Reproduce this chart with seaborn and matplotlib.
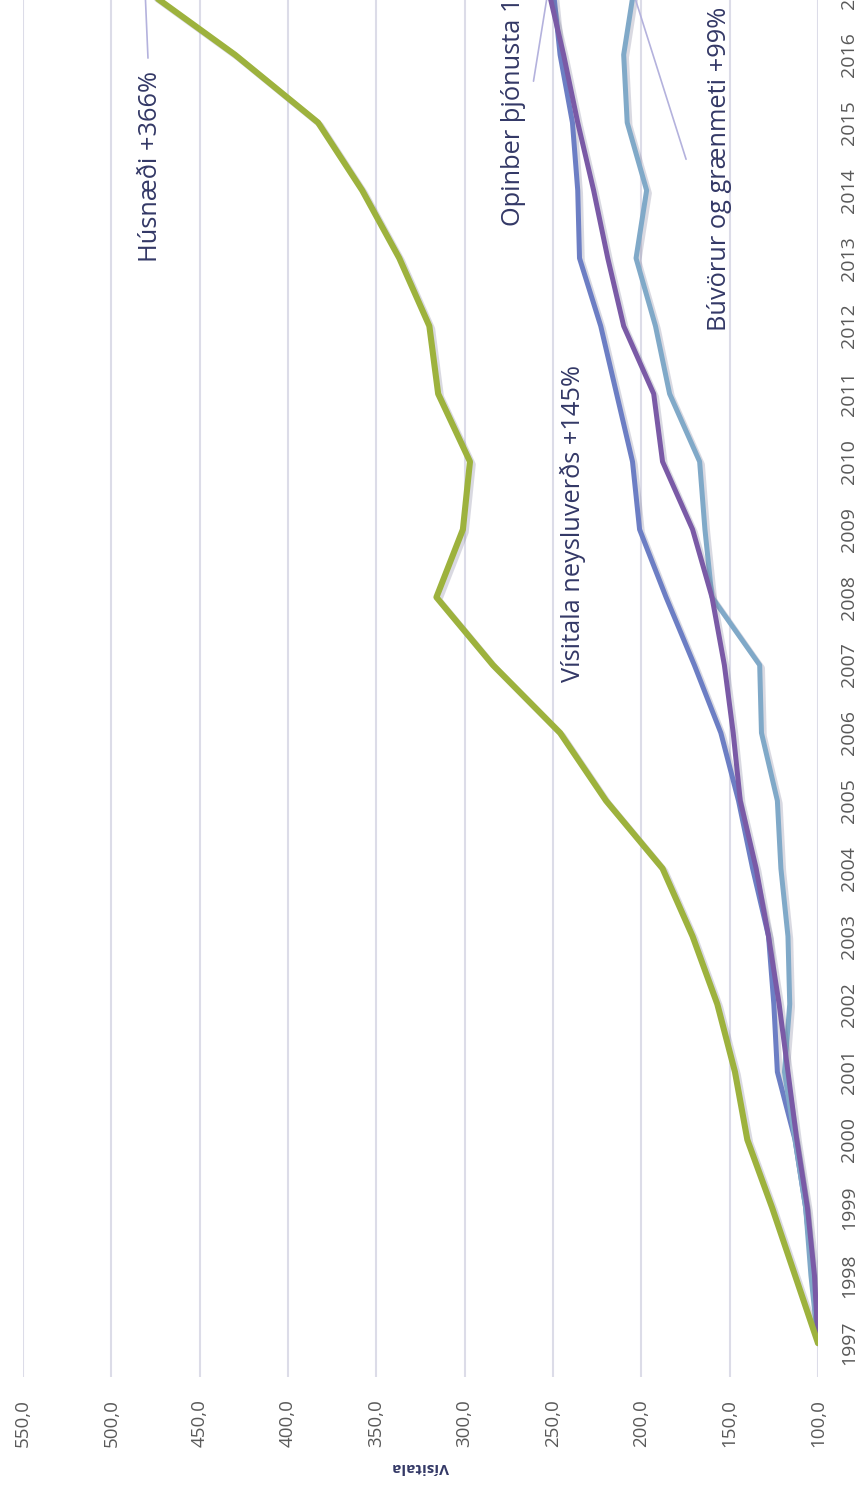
import pandas as pd
import seaborn as sns
import matplotlib.pyplot as plt
import matplotlib.patheffects as pe
from matplotlib.ticker import FuncFormatter

# --------------------------
# Data (index, 1997 = 100)
# --------------------------
years = list(range(1997, 2018))

husnaedi = [100, 113, 126, 140, 147, 157, 171, 188, 220, 246, 284,
            316, 301, 297, 315, 320, 337, 358, 383, 430, 483]
visitala = [100, 103, 107, 113, 123, 125, 128, 137, 145, 155, 170,
            186, 201, 205, 214, 223, 235, 236, 239, 246, 250]
opinber = [100, 102, 106, 112, 117, 122, 128, 135, 144, 148, 153,
           160, 171, 188, 193, 210, 219, 227, 236, 244, 253]
buvorur = [100, 104, 107, 113, 119, 116, 117, 121, 123, 132, 133,
           160, 164, 167, 184, 192, 203, 197, 208, 210, 204]

value_ticks = [100, 150, 200, 250, 300, 350, 400, 450, 500, 550]

series = {
    "Vísitala neysluverðs": (visitala, "#6c7ec4", 3.6),
    "Búvörur og grænmeti": (buvorur, "#80a9c8", 3.6),
    "Opinber þjónusta": (opinber, "#7a5aa6", 3.6),
    "Húsnæði": (husnaedi, "#9db23d", 4.4),
}

sns.set_theme(style="white")
plt.rcParams["font.family"] = ["Open Sans", "DejaVu Sans"]

NAVY = "#333866"
GREY = "#595959"
LEADER = "#b4b2dd"

fig = plt.figure(figsize=(8.56, 14.95), dpi=100)
# chart is drawn turned on its side: values run right-to-left, years bottom-to-top
ax = fig.add_axes([0.0269, 0.0789, 0.9287, 0.9525])

shadow = [pe.SimpleLineShadow(offset=(2, -2), shadow_color="#6a6a8a", alpha=0.25),
          pe.Normal()]

for name, (vals, col, lw) in series.items():
    df = pd.DataFrame({"Year": years, "Value": vals})
    sns.lineplot(data=df, x="Value", y="Year", orient="y", ax=ax,
                 color=col, linewidth=lw, path_effects=shadow)

ax.set_xlim(550, 100)
ax.set_ylim(1996.5, 2017.5)

ax.set_xticks(value_ticks)
ax.xaxis.set_major_formatter(FuncFormatter(lambda v, p: f"{v:.1f}".replace(".", ",")))
ax.tick_params(axis="x", length=0, pad=16, labelsize=13.5, labelcolor=GREY,
               labelrotation=90)

ax.yaxis.tick_right()
ax.set_yticks(years)
ax.tick_params(axis="y", length=0, pad=16, labelsize=14, labelcolor=GREY,
               labelrotation=90)
for lbl in ax.get_yticklabels():
    lbl.set_va("center")
    lbl.set_ha("left")

ax.grid(axis="x", color="#dcdce8", linewidth=1.5)
ax.grid(axis="y", visible=False)
for s in ax.spines.values():
    s.set_visible(False)

ax.set_ylabel("")
ax.set_xlabel("")
# axis title sits upside down under the value labels
fig.text(0.491, 0.0187, "Vísitala", rotation=180, ha="center", va="center",
         fontsize=11, fontweight="bold", color=NAVY)

# --------------------------
# Series labels + leader lines
# --------------------------
lab = dict(rotation=90, fontsize=18.3, color=NAVY, ha="center")
ax.text(478, 2014.35, "Húsnæði +366%", va="center", **lab)
ax.text(272.6, 2013.47, "Opinber þjónusta 155%", va="bottom", **lab)
ax.text(155.5, 2011.93, "Búvörur og grænmeti +99%", va="bottom", **lab)
ax.text(238.7, 2006.75, "Vísitala neysluverðs +145%", va="bottom", **lab)

lead = dict(arrowstyle="-", color=LEADER, lw=1.2)
ax.annotate("", xy=(481.5, 2017.3), xytext=(479.2, 2015.91),
            arrowprops=lead, annotation_clip=False)
ax.annotate("", xy=(250.6, 2017.3), xytext=(261.3, 2015.57),
            arrowprops=lead, annotation_clip=False)
ax.annotate("", xy=(209.2, 2017.3), xytext=(174.2, 2014.42),
            arrowprops=lead, annotation_clip=False)

fig.savefig("out.png", dpi=100)
